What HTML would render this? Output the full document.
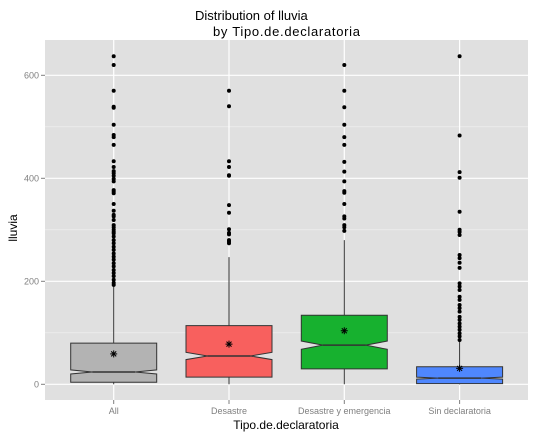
<!DOCTYPE html>
<html><head><meta charset="utf-8"><style>
body{margin:0;background:#fff;}
svg text{font-family:"Liberation Sans",sans-serif;}
</style></head><body>
<svg id="chart" width="536" height="435">
<text x="195" y="20" font-size="13" fill="#000">Distribution of lluvia</text>
<text x="213" y="36" font-size="13" fill="#000" textLength="147">by Tipo.de.declaratoria</text>
<rect x="45" y="40" width="483" height="360" fill="#e0e0e0"/>
<g id="grid"></g><g id="marks"></g><g id="axes"></g>
<text x="286" y="429" font-size="12" text-anchor="middle">Tipo.de.declaratoria</text>
<text transform="translate(17,228) rotate(-90)" font-size="12" text-anchor="middle">lluvia</text>
</svg>
<script>
const categories=["All","Desastre","Desastre y emergencia","Sin declaratoria"];
const fills=["#b3b3b3","#f8605e","#17b12f","#4f87fe"];
const q1=[4,14,30,1.3];
const medians=[24,55,76,12];
const q3=[80,114,134,34];
const means=[59,78,104,31];
const whiskerLow=[0,0,0,0];
const whiskerHigh=[193,247,280,86];
const notchHalf=[4,7,8,2];
const outliersAll=[637,620,570,539,537,504,484,480,465,433,422,414,410,405,399,394,377,374,371,350,337,329,326,319,309,305,300,296,293,287,280,274,267,261,254,248,242,235,229,222,216,210,203,197,193];
const outliersDesastre=[570,540,433,422,406,405,348,333,301,294,291,280,277,274];
const outliersDyE=[620,570,538,504,480,465,432,413,394,375,372,350,326,322,309,305,298];
const outliersSin=[637,483,412,401,335,300,296,290,251,245,236,226,196,190,183,170,164,154,148,141,131,125,118,112,106,99,93,86];
const outliers=[outliersAll,outliersDesastre,outliersDyE,outliersSin];
const yTicks=[0,200,400,600];
const yMinor=[100,300,500];
const NS="http://www.w3.org/2000/svg";
const y=v=>384.3-v*0.515;
const x=i=>113.7+i*115.3;
const hw=43;
function mk(t,a,p){const e=document.createElementNS(NS,t);for(const k in a)e.setAttribute(k,a[k]);p.appendChild(e);return e;}
const grid=document.getElementById('grid'),marks=document.getElementById('marks'),axes=document.getElementById('axes');
yMinor.forEach(v=>{const l=mk('line',{x1:45,x2:528,y1:y(v),y2:y(v),stroke:'#f2f2f2','stroke-width':0.6},grid);

});
yTicks.forEach(v=>{const l=mk('line',{x1:45,x2:528,y1:y(v),y2:y(v),stroke:'#fff','stroke-width':1.2},grid);


mk('line',{x1:41,x2:45,y1:y(v),y2:y(v),stroke:'#7f7f7f'},axes);
const t=mk('text',{x:39,y:y(v)+3,'font-size':9,fill:'#7f7f7f','text-anchor':'end'},axes);t.textContent=v;

});
categories.forEach((c,i)=>{const cx=x(i);
const g=mk('line',{x1:cx,x2:cx,y1:40,y2:400,stroke:'#fff','stroke-width':1.2},grid);


mk('line',{x1:cx,x2:cx,y1:400,y2:404,stroke:'#7f7f7f'},axes);
const t=mk('text',{x:cx,y:414,'font-size':9,fill:'#7f7f7f','text-anchor':'middle'},axes);t.textContent=c;


const w=mk('line',{x1:cx,x2:cx,y1:y(whiskerLow[i]),y2:y(whiskerHigh[i]),stroke:'#333','stroke-width':1},marks);


const L=cx-hw,R=cx+hw,ni=hw*0.5,m=medians[i],n=notchHalf[i];
const pts=[[L,y(q3[i])],[R,y(q3[i])],[R,y(m+n)],[R-ni,y(m)],[R,y(m-n)],[R,y(q1[i])],[L,y(q1[i])],[L,y(m-n)],[L+ni,y(m)],[L,y(m+n)]];
const b=mk('polygon',{points:pts.map(p=>p.join(',')).join(' '),fill:fills[i],stroke:'#333','stroke-width':1},marks);


const md=mk('line',{x1:L+ni,x2:R-ni,y1:y(m),y2:y(m),stroke:'#333','stroke-width':1.5},marks);


const my=y(means[i]);
const mg=mk('g',{stroke:'#000','stroke-width':1},marks);


mk('line',{x1:cx-3.5,x2:cx+3.5,y1:my,y2:my},mg);
mk('line',{x1:cx,x2:cx,y1:my-3.5,y2:my+3.5},mg);
mk('line',{x1:cx-2.5,x2:cx+2.5,y1:my-2.5,y2:my+2.5},mg);
mk('line',{x1:cx-2.5,x2:cx+2.5,y1:my+2.5,y2:my-2.5},mg);
outliers[i].forEach(v=>{const o=mk('circle',{cx:cx,cy:y(v),r:2,fill:'#000'},marks);

});
});
</script>
</body></html>
